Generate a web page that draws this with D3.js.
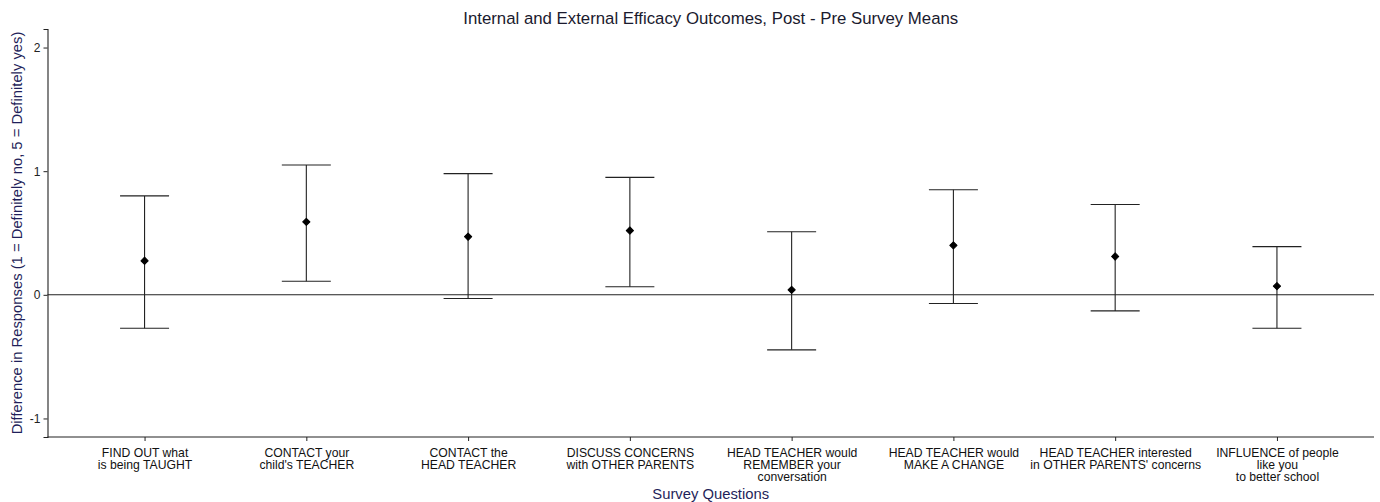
<!DOCTYPE html>
<html>
<head>
<meta charset="utf-8">
<script src="https://cdn.jsdelivr.net/npm/d3@7"></script>
<style>
  body { margin: 0; background: #fff; }
  text { font-family: "Liberation Sans", Arial, sans-serif; }
</style>
</head>
<body>
<div id="chartDiv"></div>
<script>
// survey questions (line breaks as in the original labels)
var questions = [
  ["FIND OUT what", "is being TAUGHT"],
  ["CONTACT your", "child's TEACHER"],
  ["CONTACT the", "HEAD TEACHER"],
  ["DISCUSS CONCERNS", "with OTHER PARENTS"],
  ["HEAD TEACHER would", "REMEMBER your", "conversation"],
  ["HEAD TEACHER would", "MAKE A CHANGE"],
  ["HEAD TEACHER interested", "in OTHER PARENTS' concerns"],
  ["INFLUENCE of people", "like you", "to better school"]
];
var means = [0.275, 0.59, 0.47, 0.52, 0.04, 0.40, 0.31, 0.07];
var upper = [0.80, 1.05, 0.98, 0.95, 0.51, 0.85, 0.73, 0.39];
var lower = [-0.27, 0.11, -0.03, 0.065, -0.445, -0.07, -0.13, -0.27];
var yTicks = [-1, 0, 1, 2];

var W = 1380, H = 502;
var margin = {top: 29, right: 6, bottom: 65, left: 47.5};

var svg = d3.select("#chartDiv").append("svg")
    .attr("width", W).attr("height", H);

var x_scale = d3.scalePoint()
    .domain(d3.range(questions.length))
    .range([margin.left, W - margin.right])
    .padding(0.6);

var y_scale = d3.scaleLinear()
    .domain([-1.15, 2.15])
    .range([H - margin.bottom, margin.top]);

// y axis
var yGroup = svg.append("g").attr("transform", "translate(" + margin.left + ",0)")
    .call(d3.axisLeft(y_scale).tickValues(yTicks).tickSize(4).tickPadding(3)
      .tickFormat(function(d){ return String(d); }));
// x axis
var xGroup = svg.append("g").attr("transform", "translate(0," + (H - margin.bottom) + ")")
    .call(d3.axisBottom(x_scale).tickSize(4).tickFormat(""));

[yGroup, xGroup].forEach(function(g){
  g.select(".domain").attr("stroke", "#222").attr("stroke-width", 1.1);
  g.selectAll(".tick line").attr("stroke", "#222");
});
// extend x axis line to the y axis
xGroup.select(".domain").attr("d", "M" + margin.left + ",0H" + (W - margin.right));
yGroup.selectAll(".tick text").attr("font-size", 12).attr("fill", "#222")
    .style("font-family", "Liberation Sans, Arial, sans-serif");

// multi-line x labels
xGroup.selectAll(".tick").each(function(d){
  var t = d3.select(this).append("text")
      .attr("y", 20).attr("text-anchor", "middle")
      .attr("font-size", 12.2).attr("fill", "#111");
  questions[d].forEach(function(line, i){
    t.append("tspan").attr("x", 0).attr("dy", i === 0 ? 0 : 12).text(line);
  });
});

// zero reference line
svg.append("line")
    .attr("x1", margin.left).attr("x2", W - margin.right)
    .attr("y1", y_scale(0)).attr("y2", y_scale(0))
    .attr("stroke", "#222").attr("stroke-width", 1.1);

// error bars
var capHalf = 24.5;
var bars = svg.append("g").selectAll("g").data(means).enter().append("g");
bars.append("line")
    .attr("x1", function(d, i){ return x_scale(i); })
    .attr("x2", function(d, i){ return x_scale(i); })
    .attr("y1", function(d, i){ return y_scale(upper[i]); })
    .attr("y2", function(d, i){ return y_scale(lower[i]); })
    .attr("stroke", "#222").attr("stroke-width", 1.1);
bars.append("line")
    .attr("x1", function(d, i){ return x_scale(i) - capHalf; })
    .attr("x2", function(d, i){ return x_scale(i) + capHalf; })
    .attr("y1", function(d, i){ return y_scale(upper[i]); })
    .attr("y2", function(d, i){ return y_scale(upper[i]); })
    .attr("stroke", "#222").attr("stroke-width", 1.1);
bars.append("line")
    .attr("x1", function(d, i){ return x_scale(i) - capHalf; })
    .attr("x2", function(d, i){ return x_scale(i) + capHalf; })
    .attr("y1", function(d, i){ return y_scale(lower[i]); })
    .attr("y2", function(d, i){ return y_scale(lower[i]); })
    .attr("stroke", "#222").attr("stroke-width", 1.1);
bars.append("path")
    .attr("d", d3.symbol().type(d3.symbolSquare).size(26))
    .attr("transform", function(d, i){ return "translate(" + x_scale(i) + "," + y_scale(d) + ") rotate(45)"; })
    .attr("fill", "#000").attr("stroke", "#000").attr("stroke-width", 1)
    .attr("stroke-linejoin", "round");

// titles
svg.append("text")
    .attr("x", (margin.left + W - margin.right) / 2).attr("y", 24)
    .attr("text-anchor", "middle").attr("font-size", 16.8).attr("fill", "#1a1a2e")
    .text("Internal and External Efficacy Outcomes, Post - Pre Survey Means");
svg.append("text")
    .attr("x", (margin.left + W - margin.right) / 2).attr("y", 499)
    .attr("text-anchor", "middle").attr("font-size", 14.8).attr("fill", "#1f1f5a")
    .text("Survey Questions");
svg.append("text")
    .attr("transform", "translate(22," + ((margin.top + H - margin.bottom) / 2) + ") rotate(-90)")
    .attr("text-anchor", "middle").attr("font-size", 14.8).attr("fill", "#1f1f5a")
    .text("Difference in Responses (1 = Definitely no, 5 = Definitely yes)");
</script>
</body>
</html>
